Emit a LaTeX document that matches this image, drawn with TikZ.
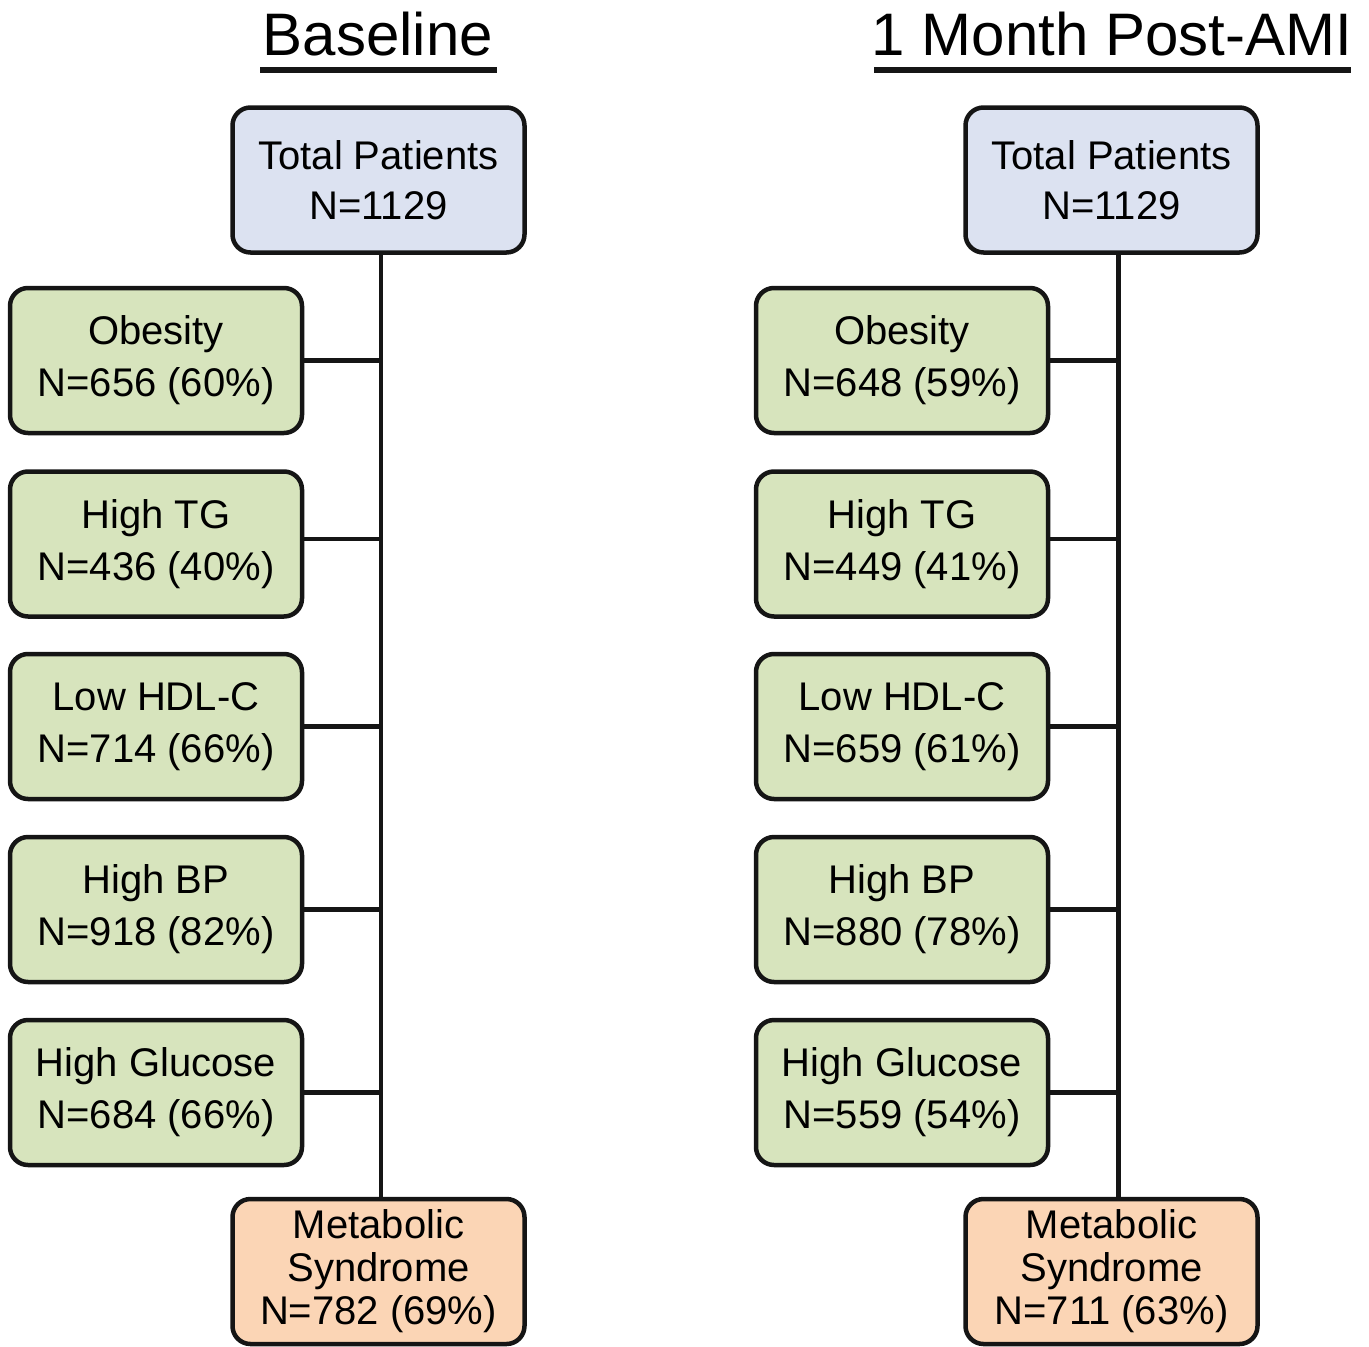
\documentclass[tikz,border=0pt]{standalone}
\usepackage{fontspec}
\setmainfont{Liberation Sans}
\definecolor{blueF}{HTML}{DCE2F1}
\definecolor{greenF}{HTML}{D7E4BD}
\definecolor{orangeF}{HTML}{FBD5B5}
\definecolor{edge}{HTML}{151515}
\begin{document}
\begin{tikzpicture}[x=1pt,y=-1pt,
  box/.style={draw=edge, line width=4.5pt, rounded corners=18pt, minimum width=292pt, minimum height=145pt, align=center, inner sep=0pt},
  topbox/.style={box, fill=blueF, font=\fontsize{40}{50}\selectfont},
  riskbox/.style={box, fill=greenF, font=\fontsize{40}{52}\selectfont},
  metbox/.style={box, fill=orangeF, font=\fontsize{40}{43}\selectfont},
  title/.style={font=\fontsize{60}{60}\selectfont, inner sep=0pt, anchor=base},
  uline/.style={line width=6pt, draw=edge},
  link/.style={line width=4.5pt, draw=edge}]
\useasboundingbox (0,0) rectangle (1369,1347);
% titles
\node[title] (tA) at (378,55) {Baseline};
\node[title] (tB) at (1112,55) {1 Month Post-AMI};
\coordinate (uA1) at (260,70); \coordinate (uA2) at (497,70);
\coordinate (uB1) at (874,70); \coordinate (uB2) at (1351,70);
\draw[uline] (uA1) -- (uA2);
\draw[uline] (uB1) -- (uB2);
% left column
\node[topbox] (totA) at (378.5,180) {Total Patients\\N=1129};
\node[riskbox] (obA) at (156,360.5) {Obesity\\N=656 (60\%)};
\node[riskbox] (tgA) at (156,544) {High TG\\N=436 (40\%)};
\node[riskbox] (hdlA) at (156,726.5) {Low HDL-C\\N=714 (66\%)};
\node[riskbox] (bpA) at (156,909.5) {High BP\\N=918 (82\%)};
\node[riskbox] (glA) at (156,1092.5) {High Glucose\\N=684 (66\%)};
\node[metbox] (msA) at (378.5,1271.5) {Metabolic\\Syndrome\\N=782 (69\%)};
% right column
\node[topbox] (totB) at (1111.5,180) {Total Patients\\N=1129};
\node[riskbox] (obB) at (902,360.5) {Obesity\\N=648 (59\%)};
\node[riskbox] (tgB) at (902,544) {High TG\\N=449 (41\%)};
\node[riskbox] (hdlB) at (902,726.5) {Low HDL-C\\N=659 (61\%)};
\node[riskbox] (bpB) at (902,909.5) {High BP\\N=880 (78\%)};
\node[riskbox] (glB) at (902,1092.5) {High Glucose\\N=559 (54\%)};
\node[metbox] (msB) at (1111.5,1271.5) {Metabolic\\Syndrome\\N=711 (63\%)};
% spines
\coordinate (spA) at ([xshift=2.5pt]totA.south);
\coordinate (spB) at ([xshift=7pt]totB.south);
\draw[link] (spA) -- (spA |- msA.north);
\draw[link] (spB) -- (spB |- msB.north);
\foreach \n/\s in {obA/0,tgA/5,hdlA/0,bpA/0,glA/0}{\draw[link] ([yshift=\s pt]\n.east) -- ([yshift=\s pt]\n.east -| spA);}
\foreach \n/\s in {obB/0,tgB/5,hdlB/0,bpB/0,glB/0}{\draw[link] ([yshift=\s pt]\n.east) -- ([yshift=\s pt]\n.east -| spB);}
\end{tikzpicture}
\end{document}
